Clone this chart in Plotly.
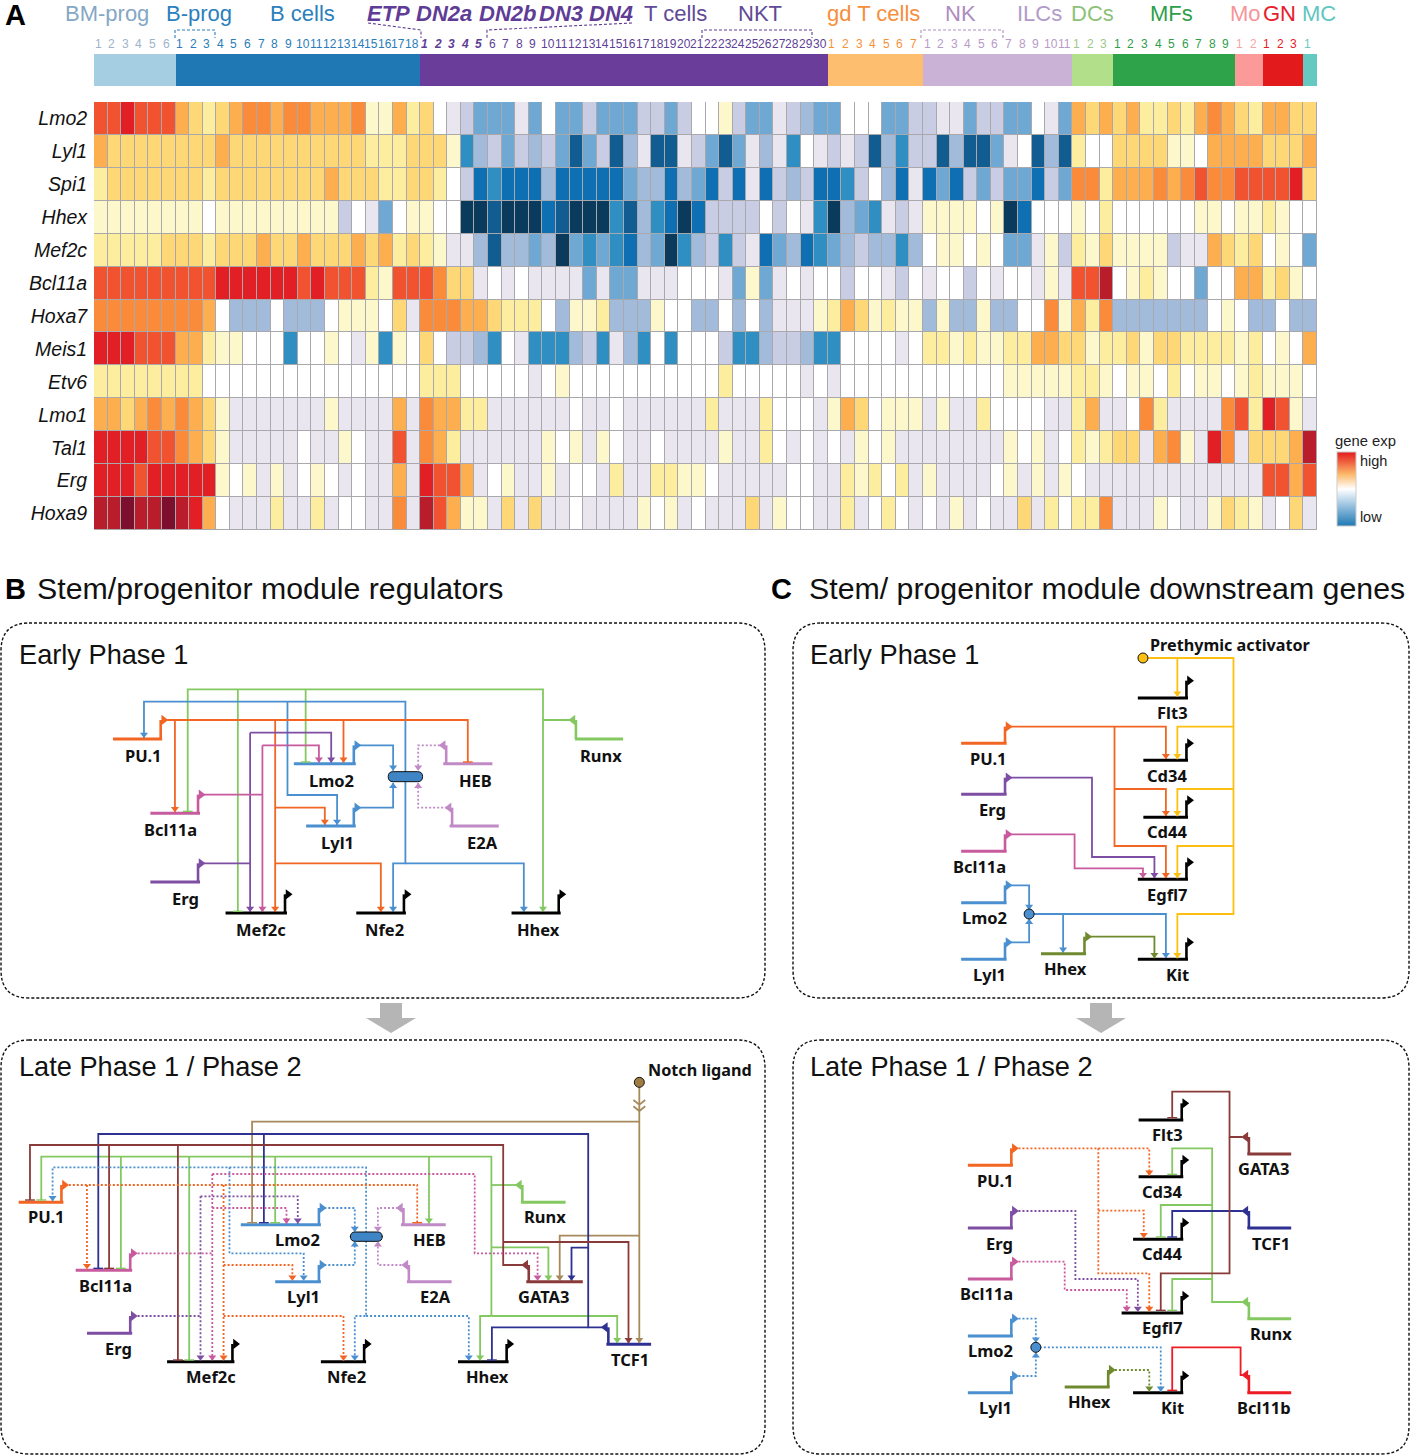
import plotly.graph_objects as go

W, H = 1410, 1456
GENES = ["Lmo2","Lyl1","Spi1","Hhex","Mef2c","Bcl11a","Hoxa7","Meis1","Etv6","Lmo1","Tal1","Erg","Hoxa9"]
Lmo2 = [6,6,7,6,6,6,4,3,2,3,4,5,5,4,5,5,4,4,4,5,1,1,4,2,3,0,-1,-2,
        -4,-4,-4,-1,-4,0,-4,-4,-2,-4,-4,-4,-2,-2,-4,-2,0,0,1,-2,-4,-4,-1,-2,-3,-4,-4,0,0,0,-4,-4,-2,
        -2,-1,-1,-4,-2,-2,-4,-4,0,-1,-4,
        4,3,4,3,4,2,2,3,2,4,5,4,3,2,4,4,3,3]
Lyl1 = [4,3,3,3,3,3,3,3,3,4,3,3,3,3,3,3,3,3,3,3,2,2,2,3,3,3,1,-5,
        -3,-2,-4,-2,-3,-2,-4,-7,-4,-2,-7,-3,-1,-7,-7,-1,-2,-4,-7,-4,-1,-3,-1,-5,0,-1,-2,-1,-2,-7,-3,-5,-2,
        -2,-7,-3,-7,-7,-4,-1,0,-7,-3,-7,
        2,0,0,3,3,3,3,1,1,0,4,4,4,4,3,3,3,4]
Spi1 = [2,3,3,3,3,3,3,3,2,3,3,3,3,3,3,3,3,4,3,3,3,2,2,3,3,2,0,-2,
        -6,-5,-6,-6,-6,-3,-6,-6,-6,-6,-6,-4,-3,-3,-6,-3,-4,-6,-2,-6,-1,-6,-2,-3,-2,-6,-6,-5,-2,0,-3,-6,-1,
        -6,-4,-6,-2,-4,-2,-4,-4,-6,-2,-4,
        5,5,2,4,4,4,5,4,5,6,5,5,6,6,6,6,7,3]
Hhex = [1,1,1,1,1,1,1,1,0,1,1,1,1,1,1,1,1,1,-2,0,-1,-4,0,1,1,0,0,-8,
        -8,-7,-8,-8,-8,-6,-7,-8,-8,-8,-5,-7,-3,-5,-6,-8,-6,-2,-2,-2,-2,0,-2,0,-1,-5,-8,-3,-4,-5,-1,-2,-1,
        1,1,1,1,0,1,-8,-6,0,0,0,
        1,0,2,0,0,0,0,0,0,1,1,0,1,1,2,1,0,0]
Mef2c = [2,2,2,2,2,3,3,3,2,3,3,3,4,3,3,4,3,3,3,4,3,4,2,3,2,1,-1,-1,
         -3,-7,-3,-3,-4,-3,-8,-4,-5,-4,-5,-6,-3,-4,-8,-5,-3,-2,-5,-2,-1,-6,-4,-3,-6,-5,-4,-3,-2,-3,-3,-5,-3,
         0,1,1,0,1,0,-4,-4,-1,1,-2,
         2,1,3,1,1,1,1,-2,-1,-1,4,3,2,3,0,1,0,-4]
Bcl11a = [6,6,6,6,6,6,6,6,6,7,7,7,7,7,7,6,7,6,6,6,2,1,6,6,6,5,3,3,
          -1,0,-1,0,-1,-1,-1,-1,-4,-1,-4,-4,-1,-1,-1,0,0,0,-1,-4,1,-4,-1,0,-1,0,0,-2,0,0,-1,-2,0,
          -1,0,0,-2,0,-1,0,0,-1,1,-1,
          6,6,8,0,1,2,1,0,0,-4,0,0,4,4,2,3,1,0]
Hoxa7 = [5,5,5,5,5,5,5,5,4,0,-3,-3,-3,0,-3,-3,-3,0,1,1,1,0,3,-1,5,5,5,4,
         4,3,2,2,2,0,-3,1,1,2,-3,-3,-3,1,0,0,-3,-3,0,-3,0,-3,-1,-1,-1,1,2,4,3,1,2,1,1,
         -3,1,-3,-3,1,-3,-3,0,0,5,1,
         4,2,5,-3,-3,-3,-3,-3,-3,-3,0,1,0,-3,-3,0,-3,-3]
Meis1 = [7,7,7,6,6,6,4,4,2,1,1,0,0,0,-5,0,0,1,0,-1,1,-5,1,0,3,0,-2,-2,
         -3,-5,0,-1,-5,-5,-5,-3,-2,-5,-1,-3,-5,0,-5,0,0,0,-2,-5,-5,-3,-2,-2,-3,-5,-5,0,0,0,0,-1,0,
         2,2,1,2,1,1,2,2,4,4,3,
         3,1,2,2,3,1,3,3,2,2,2,2,1,2,0,1,0,4]
Etv6 = [2,2,2,2,2,2,2,2,0,0,0,0,0,0,0,0,0,0,0,0,0,0,0,0,2,2,2,0,
        0,0,0,0,-1,0,1,0,0,0,0,0,0,0,0,0,0,0,2,0,0,0,0,0,-1,0,-1,0,0,0,0,0,0,
        0,0,0,0,0,0,1,1,1,1,1,
        2,2,1,0,1,1,0,2,0,1,1,0,1,2,1,1,1,0]
Lmo1 = [4,4,3,4,5,4,5,4,3,1,-1,-1,-1,-1,-1,-1,-1,1,-1,-1,-1,-1,4,-1,5,4,4,2,
        2,-1,-1,-1,-1,-1,-1,0,-1,-1,0,-1,-1,-1,-1,-1,-1,2,-1,-1,-1,2,0,0,0,-1,1,4,3,0,1,1,1,
        -1,1,-1,-1,2,0,0,0,0,-1,-1,
        2,4,-1,-1,0,5,2,-1,-1,-1,-1,5,6,2,7,6,1,-1]
Tal1 = [7,7,7,7,6,6,5,4,3,1,-1,-1,-1,-1,-1,0,-1,-1,1,0,-1,-1,6,-1,5,4,2,-1,
        -1,-1,-1,-1,-1,1,0,1,-1,1,0,-1,-1,0,-1,-1,-1,-1,1,-1,-1,2,0,-1,0,-1,0,-1,1,0,1,-1,-1,
        -1,-1,-1,-1,-1,-1,1,0,1,-1,0,
        2,1,2,3,3,-1,4,5,1,-1,7,5,-1,3,3,3,4,8]
Erg = [7,7,7,6,7,7,7,7,7,1,0,1,-1,1,-1,0,1,0,-1,0,-1,-1,4,-1,7,6,6,4,
       -1,0,1,-1,-1,1,-1,0,0,-1,2,-1,-1,2,2,1,1,0,-1,-1,-1,-1,-1,0,0,-1,-1,2,1,2,0,2,-1,
       1,-1,-1,-1,-1,0,1,-1,1,-1,1,
       0,-1,-1,-1,-1,-1,-1,-1,-1,-1,-1,-1,-1,-1,6,6,4,6]
Hoxa9 = [8,8,9,8,8,9,8,7,4,0,-1,-1,-1,2,-1,-1,2,-1,0,0,-1,-1,5,-1,8,6,4,1,
         1,-1,3,-1,3,-1,-1,0,-1,-1,-1,-1,1,0,1,-1,0,-1,-1,-1,3,-1,1,0,0,-1,-1,2,-1,0,2,0,-1,
         0,-1,1,-1,0,-1,-1,3,-1,2,0,
         2,2,5,-1,-1,-1,1,0,-1,-1,1,3,2,1,-1,0,3,-1]
EXPR = [Lmo2,Lyl1,Spi1,Hhex,Mef2c,Bcl11a,Hoxa7,Meis1,Etv6,Lmo1,Tal1,Erg,Hoxa9]
for _r in EXPR:
    assert len(_r) == 90, len(_r)

LEVEL_COLORS = ["#0a3a5c","#115d92","#0e6fb3","#2f8fc2","#6fa8d2","#a3bbdb","#c9cde3","#eae6f0","#ffffff",
                "#fcf8cc","#fdee9f","#fed876","#fdae4e","#f98b3b","#f15230","#e31f26","#b91c2b","#7c0f2e"]
LEVEL_MIN, LEVEL_MAX = -8, 9

GROUP_SIZES = [6,18,30,7,11,3,9,2,3,1]
GROUP_BAR = ["#a6cee3","#1f78b4","#6a3d9a","#fdbf6f","#cab2d6","#b2df8a","#2fa34a","#fb9a99","#e31a1c","#66c9c1"]
GROUP_NUM = ["#9cb3ca","#2a7db9","#5e3f97","#f4923c","#b89bc8","#9cc88a","#2f9e4a","#f6a5a5","#e6202a","#66c9c1"]
TOP_LABELS = [("BM-prog",107,"#85a7c4",0),("B-prog",199,"#2b7fbd",0),("B cells",302,"#2b7fbd",0),
              ("ETP",388,"#5f3c96",1),("DN2a",444,"#5f3c96",1),("DN2b",507,"#5f3c96",1),("DN3",561,"#5f3c96",1),
              ("DN4",611,"#5f3c96",1),("T cells",675,"#5e4a96",0),("NKT",760,"#5e4a96",0),
              ("gd T cells",873,"#f58f3b",0),("NK",960,"#ae8cc0",0),("ILCs",1039,"#b09cc8",0),("DCs",1092,"#8ec17a",0),
              ("MFs",1171,"#2f9e4a",0),("Mo",1245,"#f6949b",0),("GN",1279,"#e6202a",0),("MC",1319,"#5fc6c0",0)]
BRACKETS = [([175,175,215,215],[38,30,30,38],"#2b7fbd"),([368,421,421],[23,30,38],"#5f3c96"),
            ([632,487,487],[23,30,38],"#5f3c96"),([702,702,812,812],[38,30,30,38],"#5f3c96"),
            ([921,921,1003,1003],[38,30,30,38],"#ae8cc0")]

ORANGE,PINK,PURPLE,BLUE,LILAC,GREEN,BLACK = "#f26522","#c85a9e","#7e4ea3","#4a90d0","#c08ac6","#84c862","#000000"
YELLOW,OLIVE,TAN,NAVY,MAROON,RED = "#fdc010","#6f8a2e","#a68a5b","#2e3192","#8b3a3a","#ed1c24"

B1 = dict(ox=0, oy=620, sx=2.035,
  genes=[("PU.1",230,330,357,327,300,"r",ORANGE,291,408),("Bcl11a",306,407,580,403,524,"r",PINK,347,632),
         ("Erg",306,407,786,403,730,"r",PURPLE,377,838),("Lmo2",598,724,431,720,376,"r",BLUE,674,483),
         ("Lyl1",623,724,618,720,563,"r",BLUE,686,669),("HEB",902,1002,431,908,376,"l",LILAC,968,483),
         ("E2A",915,1015,618,920,563,"l",LILAC,981,669),("Runx",1170,1268,357,1172,300,"l",GREEN,1224,408),
         ("Mef2c",459,584,879,580,823,"r",BLACK,531,930),("Nfe2",725,826,879,822,823,"r",BLACK,782,930),
         ("Hhex",1041,1141,879,1137,823,"r",BLACK,1096,930)],
  edges=[(GREEN,0,[(1160,300),(1105,300),(1105,876)],"a"),(GREEN,0,[(1105,300),(1105,208),(382,208),(382,574)],"t"),
         (GREEN,0,[(484,208),(484,874)],"t"),(GREEN,0,[(622,208),(622,426)],"t"),
         (BLUE,0,[(825,470),(825,245),(293,245),(293,354)],"a"),(BLUE,0,[(585,245),(585,525),(686,525),(686,615)],"a"),
         (BLUE,0,[(825,470),(825,730),(800,730),(800,876)],"a"),(BLUE,0,[(825,730),(1066,730),(1066,876)],"a"),
         (ORANGE,0,[(340,300),(952,300),(952,426)],"t"),(ORANGE,0,[(356,300),(356,577)],"a"),
         (ORANGE,0,[(699,300),(699,428)],"a"),(ORANGE,0,[(560,300),(560,876)],"a"),
         (ORANGE,0,[(560,563),(661,563),(661,615)],"a"),(ORANGE,0,[(560,730),(775,730),(775,876)],"a"),
         (PURPLE,0,[(415,730),(509,730)],""),(PURPLE,0,[(509,338),(674,338),(674,428)],"a"),
         (PURPLE,0,[(509,338),(509,876)],"a"),
         (PINK,0,[(415,524),(534,524)],""),(PINK,0,[(534,376),(649,376),(649,428)],"a"),
         (PINK,0,[(534,376),(534,876)],"a"),
         (BLUE,0,[(730,376),(800,376),(800,452)],"a"),(BLUE,0,[(730,563),(800,563),(800,488)],"a"),
         (LILAC,1,[(895,376),(851,376),(851,452)],"a"),(LILAC,1,[(910,563),(851,563),(851,488)],"a")],
  pills=[(790,455,860,485)], nodes=[], notes=[])

C1 = dict(ox=790, oy=620, sx=2.53,
  genes=[("Flt3",880,1007,234,1003,182,"r",BLACK,968,281),("Cd34",894,1007,421,1003,370,"r",BLACK,954,468),
         ("Cd44",894,1007,592,1003,541,"r",BLACK,954,638),("Egfl7",880,1007,778,1003,727,"r",BLACK,954,827),
         ("Kit",880,1007,1018,1003,967,"r",BLACK,980,1066),("PU.1",433,548,370,544,320,"r",ORANGE,502,417),
         ("Erg",433,548,523,544,473,"r",PURPLE,513,571),("Bcl11a",433,548,694,544,643,"r",PINK,480,741),
         ("Lmo2",433,548,848,544,796,"r",BLUE,491,895),("Lyl1",433,548,1018,544,967,"r",BLUE,504,1066),
         ("Hhex",635,749,1001,745,950,"r",OLIVE,697,1049)],
  edges=[(YELLOW,0,[(893,114),(1122,114),(1122,882),(980,882),(980,1015)],"a"),(YELLOW,0,[(980,114),(980,230)],"a"),
         (YELLOW,0,[(1122,320),(980,320),(980,418)],"a"),(YELLOW,0,[(1122,507),(980,507),(980,589)],"a"),
         (YELLOW,0,[(1122,678),(980,678),(980,775)],"a"),
         (ORANGE,0,[(555,320),(951,320),(951,418)],"a"),(ORANGE,0,[(821,320),(821,678),(951,678),(951,775)],"a"),
         (ORANGE,0,[(821,507),(951,507),(951,589)],"a"),
         (PURPLE,0,[(555,473),(764,473),(764,711),(922,711),(922,775)],"a"),
         (PINK,0,[(555,643),(720,643),(720,745),(893,745),(893,775)],"a"),
         (BLUE,0,[(555,796),(605,796),(605,870)],"a"),(BLUE,0,[(555,967),(605,967),(605,896)],"a"),
         (BLUE,0,[(605,882),(951,882),(951,1015)],"a"),(BLUE,0,[(691,882),(691,998)],"a"),
         (OLIVE,0,[(755,950),(922,950),(922,1015)],"a")],
  pills=[], nodes=[(893,114,YELLOW),(605,882,BLUE)],
  notes=[("Prethymic activator",912,78)])

B2 = dict(ox=0, oy=1040, sx=2.035,
  genes=[("PU.1",38,129,487,125,435,"r",ORANGE,94,533),("Bcl11a",154,269,691,265,640,"r",PINK,215,739),
         ("Erg",177,269,880,265,828,"r",PURPLE,242,927),("Lmo2",490,653,554,649,504,"r",BLUE,606,601),
         ("Lyl1",560,653,725,649,675,"r",BLUE,618,772),("HEB",816,907,554,821,504,"l",LILAC,875,601),
         ("E2A",828,919,725,832,675,"l",LILAC,887,772),("Runx",1060,1151,487,1063,435,"l",GREEN,1110,533),
         ("GATA3",1071,1186,725,1076,675,"l",MAROON,1105,772),("TCF1",1234,1325,913,1238,862,"l",NAVY,1283,960),
         ("Mef2c",340,477,965,473,912,"r",BLACK,429,1012),("Nfe2",653,745,965,741,912,"r",BLACK,705,1012),
         ("Hhex",932,1035,965,1031,912,"r",BLACK,993,1012)],
  edges=[(TAN,0,[(1301,127),(1301,910)],"a"),(TAN,0,[(1289,180),(1301,194),(1313,180)],""),
         (TAN,0,[(1289,199),(1301,213),(1313,199)],""),
         (TAN,0,[(1301,245),(513,245),(513,548)],"t"),(TAN,0,[(1301,587),(1139,587),(1139,722)],"a"),
         (NAVY,0,[(1228,862),(1197,862),(1197,282),(200,282),(200,685)],"t"),(NAVY,0,[(537,282),(537,548)],"t"),
         (NAVY,0,[(1197,623),(1163,623),(1163,722)],"a"),(NAVY,0,[(1197,862),(1001,862),(1001,960)],"t"),
         (MAROON,0,[(1068,675),(1024,675),(1024,315),(61,315),(61,480)],"t"),(MAROON,0,[(222,315),(222,685)],"t"),
         (MAROON,0,[(362,315),(362,960)],"t"),(MAROON,0,[(1024,606),(1279,606),(1279,910)],"a"),
         (GREEN,0,[(1053,435),(1000,435)],""),(GREEN,0,[(1000,828),(1000,350),(84,350),(84,480)],"t"),
         (GREEN,0,[(246,350),(246,685)],"t"),(GREEN,0,[(385,350),(385,960)],"t"),(GREEN,0,[(560,350),(560,548)],"t"),
         (GREEN,0,[(873,350),(873,551)],"a"),(GREEN,0,[(1000,622),(1116,622),(1116,722)],"a"),
         (GREEN,0,[(1000,828),(977,828),(977,962)],"a"),(GREEN,0,[(1000,828),(1256,828),(1256,910)],"a"),
         (BLUE,1,[(745,590),(745,382),(107,382),(107,484)],"a"),(BLUE,1,[(467,382),(467,640),(618,640),(618,722)],"a"),
         (BLUE,1,[(745,590),(745,828),(722,828),(722,962)],"a"),(BLUE,1,[(745,828),(954,828),(954,962)],"a"),
         (PINK,1,[(280,640),(432,640)],""),(PINK,1,[(432,402),(432,962)],"a"),
         (PINK,1,[(432,402),(966,402),(966,640),(1094,640),(1094,722)],"a"),(PINK,1,[(432,504),(583,504),(583,551)],"a"),
         (ORANGE,1,[(140,435),(849,435),(849,548)],"t"),(ORANGE,1,[(177,435),(177,688)],"a"),
         (ORANGE,1,[(455,435),(455,962)],"a"),(ORANGE,1,[(455,675),(595,675),(595,722)],"a"),
         (ORANGE,1,[(455,828),(699,828),(699,962)],"a"),
         (PURPLE,1,[(280,828),(408,828)],""),(PURPLE,1,[(408,469),(408,962)],"a"),
         (PURPLE,1,[(408,469),(606,469),(606,551)],"a"),
         (BLUE,1,[(660,504),(722,504),(722,576)],"a"),(BLUE,1,[(660,675),(722,675),(722,604)],"a"),
         (LILAC,1,[(810,504),(769,504),(769,576)],"a"),(LILAC,1,[(825,675),(769,675),(769,604)],"a")],
  pills=[(713,576,778,604)], nodes=[(1301,127,"#a07c42")],
  notes=[("Notch ligand",1318,92)])

C2 = dict(ox=790, oy=1040, sx=2.53,
  genes=[("Flt3",882,995,240,991,190,"r",BLACK,956,287),("Cd34",882,995,410,991,360,"r",BLACK,942,457),
         ("Cd44",868,995,598,991,548,"r",BLACK,942,644),("Egfl7",839,995,819,991,768,"r",BLACK,942,866),
         ("Kit",868,995,1058,991,1007,"r",BLACK,967,1106),("PU.1",450,564,376,560,325,"r",ORANGE,519,423),
         ("Erg",450,564,564,560,513,"r",PURPLE,530,612),("Bcl11a",450,564,717,560,665,"r",PINK,497,764),
         ("Lmo2",450,564,888,560,836,"r",BLUE,508,935),("Lyl1",450,564,1058,560,1008,"r",BLUE,521,1106),
         ("Hhex",695,809,1041,805,990,"r",OLIVE,757,1088),("GATA3",1157,1268,342,1161,291,"l",MAROON,1198,389),
         ("TCF1",1157,1268,564,1161,513,"l",NAVY,1217,612),("Runx",1157,1268,836,1161,786,"l",GREEN,1218,884),
         ("Bcl11b",1157,1268,1058,1161,1005,"l",RED,1200,1106)],
  edges=[(MAROON,0,[(1145,291),(1112,291),(1112,155),(967,155),(967,233)],"t"),
         (MAROON,0,[(1112,291),(1112,700),(938,700),(938,811)],"t"),
         (GREEN,0,[(1145,786),(1068,786),(1068,325),(967,325),(967,403)],"t"),
         (GREEN,0,[(1068,495),(938,495),(938,591)],"t"),(GREEN,0,[(1068,717),(967,717),(967,811)],"t"),
         (NAVY,0,[(1145,513),(967,513),(967,591)],"t"),
         (RED,0,[(1145,1005),(1140,1005),(1140,922),(967,922),(967,1051)],"t"),
         (ORANGE,1,[(578,325),(909,325),(909,407)],"a"),(ORANGE,1,[(780,325),(780,700),(909,700),(909,816)],"a"),
         (ORANGE,1,[(780,512),(895,512),(895,595)],"a"),
         (PURPLE,1,[(578,513),(722,513),(722,717),(880,717),(880,816)],"a"),
         (PINK,1,[(578,665),(695,665),(695,750),(852,750),(852,816)],"a"),
         (BLUE,1,[(578,836),(622,836),(622,908)],"a"),(BLUE,1,[(578,1008),(622,1008),(622,937)],"a"),
         (BLUE,1,[(622,922),(938,922),(938,1055)],"a"),(OLIVE,1,[(822,990),(909,990),(909,1055)],"a")],
  pills=[], nodes=[(622,922,BLUE)], notes=[])

PANELS = [B1, C1, B2, C2]
BOXES = [(1,623,765,998),(793,623,1409,998),(1,1040,765,1454),(793,1040,1409,1454)]
PHASES = [("Early Phase 1",19,654),("Early Phase 1",810,654),("Late Phase 1 / Phase 2",19,1066),("Late Phase 1 / Phase 2",810,1066)]
HEADINGS = [("A",5,15),("B",5,589),("C",771,589)]
TITLES = [("Stem/progenitor module regulators",37,588),("Stem/ progenitor module downstream genes",809,588)]
BLOCK_ARROWS = [391, 1101]
SANS = "Liberation Sans"
LABEL_FONT = "Noto Sans"

fig = go.Figure()
annos, shapes = [], []

def note(text, x, y, size, color="#111111", family=SANS, xa="center", ya="middle"):
    annos.append(dict(text=text, x=x, y=y, xref="x3", yref="y3", showarrow=False, xanchor=xa, yanchor=ya,
                      font=dict(size=size, color=color, family=family), borderpad=0, borderwidth=0))

scale = [[i/(len(LEVEL_COLORS)-1), c] for i, c in enumerate(LEVEL_COLORS)]
shapes.append(dict(type="rect", xref="x", yref="y", x0=-0.5, x1=89.5, y0=-0.5, y1=12.5, layer="below",
                   fillcolor="#a9a9ad", line=dict(width=0)))
fig.add_trace(go.Heatmap(z=EXPR, x=list(range(90)), y=list(range(13)), colorscale=scale, zmin=LEVEL_MIN, zmax=LEVEL_MAX,
                         xgap=1, ygap=1, showscale=False, xaxis="x", yaxis="y", hoverinfo="skip"))
group_ids = [i for i, n in enumerate(GROUP_SIZES) for _ in range(n)]
gscale = [[i/9, c] for i, c in enumerate(GROUP_BAR)]
fig.add_trace(go.Heatmap(z=[group_ids], x=list(range(90)), y=[0], colorscale=gscale, zmin=0, zmax=9,
                         showscale=False, xaxis="x2", yaxis="y2", hoverinfo="skip"))

def px(p, x): return p["ox"] + x / p["sx"]
def py(p, y): return p["oy"] + y / 3

lines, marks = {}, {}
def add_line(key, xs, ys):
    s = lines.setdefault(key, ([], []))
    s[0].extend(list(xs) + [None]); s[1].extend(list(ys) + [None])
def add_mark(key, x, y):
    s = marks.setdefault(key, ([], []))
    s[0].append(x); s[1].append(y)

for p in PANELS:
    for col, dashed, pts, end in p["edges"]:
        xs = [px(p, a) for a, _ in pts]; ys = [py(p, b) for _, b in pts]
        add_line((col, dashed, 1.8), xs, ys)
        if end:
            dx, dy = xs[-1]-xs[-2], ys[-1]-ys[-2]
            if end == "a":
                if abs(dy) >= abs(dx):
                    sym = "triangle-down" if dy > 0 else "triangle-up"
                    ox, oy = 0, -3.5 if dy > 0 else 3.5
                else:
                    sym = "triangle-right" if dx > 0 else "triangle-left"
                    ox, oy = (-3.5 if dx > 0 else 3.5), 0
                add_mark((col, sym, 7), xs[-1] + ox, ys[-1] + oy)
            else:
                add_mark((col, "line-ew", 7), xs[-1], ys[-1])
    for label, x0, x1, y, bx, hy, side, col, lx, ly in p["genes"]:
        add_line((col, 0, 3), [px(p, x0), px(p, x1)], [py(p, y), py(p, y)])
        add_line((col, 0, 2.6), [px(p, bx), px(p, bx)], [py(p, y), py(p, hy)])
        sgn = 1 if side == "r" else -1
        add_mark((col, "triangle-right" if side == "r" else "triangle-left", 9), px(p, bx) + sgn*3, py(p, hy))
        note(f"<b>{label}</b>", px(p, lx), py(p, ly) - 1, 16.5, "#111111", LABEL_FONT)
    for text, x, y in p["notes"]:
        note(f"<b>{text}</b>", px(p, x), py(p, y) - 1, 16.2, "#111111", LABEL_FONT, xa="left")

for (col, dashed, w), (xs, ys) in lines.items():
    fig.add_trace(go.Scatter(x=xs, y=ys, mode="lines", xaxis="x3", yaxis="y3", hoverinfo="skip", showlegend=False,
                             line=dict(color=col, width=w, dash="2px,2px" if dashed else "solid")))
for (col, sym, size), (xs, ys) in marks.items():
    fig.add_trace(go.Scatter(x=xs, y=ys, mode="markers", xaxis="x3", yaxis="y3", hoverinfo="skip", showlegend=False,
                             marker=dict(color=col, symbol=sym, size=size, line=dict(color=col, width=1.4 if sym == "line-ew" else 0))))
for p in PANELS:
    for x, y, col in p["nodes"]:
        fig.add_trace(go.Scatter(x=[px(p, x)], y=[py(p, y)], mode="markers", xaxis="x3", yaxis="y3", hoverinfo="skip",
                                 showlegend=False, marker=dict(color=col, size=10, line=dict(color="#111111", width=1))))

for xs, ys, col in BRACKETS:
    fig.add_trace(go.Scatter(x=xs, y=ys, mode="lines", xaxis="x3", yaxis="y3", hoverinfo="skip", showlegend=False,
                             line=dict(color=col, width=1.1, dash="3px,2px")))

fig.add_trace(go.Scatter(x=[None, None], y=[None, None], mode="markers", xaxis="x3", yaxis="y3", hoverinfo="skip", showlegend=False,
    marker=dict(color=[-1, 1], cmin=-1, cmax=1, showscale=True,
                colorscale=[[0, "#1f78b4"], [0.25, "#8dbbdc"], [0.5, "#ffffff"], [0.7, "#fdb869"], [1, "#e31a1c"]],
                colorbar=dict(thickness=19, thicknessmode="pixels", len=74, lenmode="pixels", x=1337/W, xanchor="left",
                              y=1-452/H, yanchor="top", tickmode="array", tickvals=[0.76, -0.76], ticktext=["high", "low"],
                              ticks="", outlinewidth=1, outlinecolor="#cccccc", xpad=0, ypad=0,
                              tickfont=dict(size=14.5, family=SANS, color="#222222")))))
note("gene exp", 1365, 441, 14.8, "#222222")

i = 0
for g, n in enumerate(GROUP_SIZES):
    for k in range(n):
        bold = g == 2 and k < 5
        txt = f"<b><i>{k+1}</i></b>" if bold else str(k+1)
        annos.append(dict(text=txt, x=i - (0.1 if k >= 9 else 0.2), y=44, xref="x", yref="y3", showarrow=False, xanchor="center", yanchor="middle",
                          font=dict(size=12, color=GROUP_NUM[g], family=SANS), borderpad=0))
        i += 1
for text, x, col, strong in TOP_LABELS:
    note(f"<b><i>{text}</i></b>" if strong else text, x, 13, 22, col)

for t, x, y in HEADINGS:
    note(f"<b>{t}</b>", x, y, 29, "#000000", xa="left")
for t, x, y in TITLES:
    note(t, x, y, 30.3, "#111111", xa="left")
for t, x, y in PHASES:
    note(t, x, y, 27.2, "#111111", xa="left")

def rounded(x0, y0, x1, y1, r):
    return (f"M {x0+r} {y0} L {x1-r} {y0} Q {x1} {y0} {x1} {y0+r} L {x1} {y1-r} Q {x1} {y1} {x1-r} {y1} "
            f"L {x0+r} {y1} Q {x0} {y1} {x0} {y1-r} L {x0} {y0+r} Q {x0} {y0} {x0+r} {y0} Z")
for x0, y0, x1, y1 in BOXES:
    shapes.append(dict(type="path", xref="x3", yref="y3", path=rounded(x0, y0, x1, y1, 28),
                       line=dict(color="#111111", width=1.4, dash="3px,2px"), fillcolor="rgba(0,0,0,0)", layer="below"))
for p in PANELS:
    for a, b, c, d in p["pills"]:
        shapes.append(dict(type="path", xref="x3", yref="y3",
                           path=rounded(px(p, a), py(p, b), px(p, c), py(p, d), 5),
                           line=dict(color="#111111", width=1), fillcolor="#3f85c6", layer="above"))
for cx in BLOCK_ARROWS:
    shapes.append(dict(type="path", xref="x3", yref="y3", fillcolor="#b5b5b5", line=dict(width=0), layer="below",
                       path=f"M {cx-11} 1003 L {cx+11} 1003 L {cx+11} 1018 L {cx+25} 1018 L {cx} 1033 L {cx-25} 1018 L {cx-11} 1018 Z"))

hide = dict(visible=False, fixedrange=True)
fig.update_layout(
    width=W, height=H, autosize=False, paper_bgcolor="white", plot_bgcolor="rgba(0,0,0,0)",
    margin=dict(l=0, r=0, t=0, b=0, pad=0, autoexpand=False), showlegend=False,
    annotations=annos, shapes=shapes,
    xaxis=dict(domain=[94/W, 1317/W], range=[-0.5, 89.5], anchor="y", **hide),
    yaxis=dict(domain=[1-530/H, 1-102/H], range=[12.5, -0.5], anchor="x", fixedrange=True, showgrid=False, zeroline=False,
               showline=False, ticks="outside", ticklen=2, tickwidth=0, tickcolor="rgba(0,0,0,0)", tickmode="array", tickvals=list(range(13)),
               ticktext=[f"<i>{g}</i>" for g in GENES], tickfont=dict(size=19.5, family=SANS, color="#111111")),
    xaxis2=dict(domain=[94/W, 1317/W], range=[-0.5, 89.5], anchor="y2", **hide),
    yaxis2=dict(domain=[1-86/H, 1-54/H], range=[-0.5, 0.5], anchor="x2", **hide),
    xaxis3=dict(domain=[0, 1], range=[0, W], anchor="y3", **hide),
    yaxis3=dict(domain=[0, 1], range=[H, 0], anchor="x3", **hide),
)
fig.write_html("out.html", config={"displayModeBar": False},
               post_script="document.body.style.margin='0';document.body.style.overflow='hidden';")
